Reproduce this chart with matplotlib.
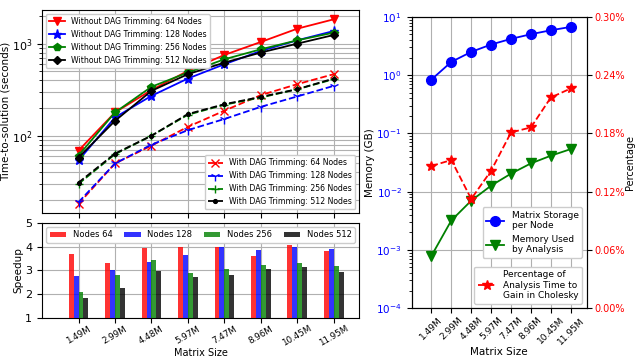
import matplotlib
matplotlib.use("Agg")
import matplotlib.pyplot as plt
import numpy as np
from matplotlib.ticker import PercentFormatter

sizes = ["1.49M", "2.99M", "4.48M", "5.97M", "7.47M", "8.96M", "10.45M", "11.95M"]

# Time-to-solution (seconds)
no_trim_64 = [69, 179, 313, 506, 754, 1042, 1453, 1837]
no_trim_128 = [54, 158, 271, 418, 597, 833, 1087, 1371]
no_trim_256 = [61, 179, 340, 486, 676, 868, 1087, 1316]
no_trim_512 = [58, 145, 307, 466, 622, 800, 1000, 1241]
trim_64 = [18.2, 50, 78, 125, 187, 276, 363, 466]
trim_128 = [19, 50, 80, 115, 152, 206, 267, 348]
trim_256 = [30, 63, 100, 169, 217, 260, 320, 411]
trim_512 = [31, 64, 100, 172, 220, 264, 320, 418]

# Speedup
speed_64 = [3.68, 3.30, 3.93, 3.98, 3.98, 3.59, 4.05, 3.80]
speed_128 = [2.77, 3.01, 3.34, 3.63, 3.98, 3.84, 3.98, 3.88]
speed_256 = [2.10, 2.80, 3.43, 2.88, 3.05, 3.22, 3.30, 3.17]
speed_512 = [1.85, 2.27, 2.98, 2.71, 2.80, 3.05, 3.13, 2.92]

# Memory (GB) and percentage
mem_storage = [0.84, 1.69, 2.51, 3.36, 4.2, 5.05, 5.9, 6.74]
mem_analysis = [7.9e-4, 3.2e-3, 7.0e-3, 0.0127, 0.0204, 0.0306, 0.0414, 0.0538]
pct_analysis = [0.1464, 0.1526, 0.1125, 0.1416, 0.181, 0.1862, 0.217, 0.2263]

x = np.arange(1, len(sizes) + 1)

fig = plt.figure(figsize=(6.37, 3.6), dpi=100)
ax1 = fig.add_axes([0.066, 0.408, 0.498, 0.564])
ax2 = fig.add_axes([0.066, 0.117, 0.498, 0.264])
ax3 = fig.add_axes([0.646, 0.144, 0.275, 0.809])

lw = 1.3
ms = 5.5
h1 = []
h1 += ax1.plot(x, no_trim_64, 'r-', marker='v', ms=ms, lw=lw, label="Without DAG Trimming: 64 Nodes")
h1 += ax1.plot(x, no_trim_128, 'b-', marker='*', ms=ms+1, lw=lw, label="Without DAG Trimming: 128 Nodes")
h1 += ax1.plot(x, no_trim_256, 'g-', marker='p', ms=ms, lw=lw, label="Without DAG Trimming: 256 Nodes")
h1 += ax1.plot(x, no_trim_512, 'k-', marker='D', ms=ms-1, lw=lw, label="Without DAG Trimming: 512 Nodes")
h2 = []
h2 += ax1.plot(x, trim_64, 'r--', marker='x', ms=ms, lw=lw, label="With DAG Trimming: 64 Nodes")
h2 += ax1.plot(x, trim_128, 'b--', marker='1', ms=ms+1, lw=lw, label="With DAG Trimming: 128 Nodes")
h2 += ax1.plot(x, trim_256, 'g--', marker='+', ms=ms, lw=lw, label="With DAG Trimming: 256 Nodes")
h2 += ax1.plot(x, trim_512, 'k--', marker='.', ms=ms, lw=lw, label="With DAG Trimming: 512 Nodes")
ax1.set_yscale('log')
ax1.set_xlim(0, 8.7)
ax1.set_xticks(x)
ax1.set_xticklabels([])
ax1.grid(True, which='major', color='#b0b0b0', lw=0.8)
ax1.grid(True, which='minor', axis='y', color='#b0b0b0', lw=0.8)
ax1.set_ylabel("Time-to-solution (seconds)", fontsize=7.5, labelpad=1)
ax1.tick_params(labelsize=8)
leg1 = ax1.legend(handles=h1, loc='upper left', fontsize=5.6, framealpha=1)
ax1.add_artist(leg1)
ax1.legend(handles=h2, loc='lower right', fontsize=5.6, framealpha=1)

w = 0.135
colors = ['r', 'b', 'g', 'k']
labels = ["Nodes 64", "Nodes 128", "Nodes 256", "Nodes 512"]
for i, (vals, c, lab) in enumerate(zip([speed_64, speed_128, speed_256, speed_512], colors, labels)):
    ax2.bar(x + (i - 1.5) * w, vals, width=w, color=c, alpha=0.8, label=lab, zorder=3)
ax2.set_ylim(1, 5)
ax2.set_xlim(0, 8.7)
ax2.set_xticks(x)
ax2.set_xticklabels(sizes, rotation=30, ha='center', fontsize=6.3)
ax2.set_yticks([1, 2, 3, 4, 5])
ax2.tick_params(axis='y', labelsize=8)
ax2.tick_params(axis='x', pad=1)
ax2.grid(True, color='#b0b0b0', lw=0.8)
ax2.set_ylabel("Speedup", fontsize=7.5, labelpad=1)
ax2.set_xlabel("Matrix Size", fontsize=7, labelpad=0)
ax2.legend(loc='upper center', ncol=4, fontsize=6, framealpha=1, mode='expand', borderaxespad=0.5)

ha1 = ax3.plot(x, mem_storage, 'b-', marker='o', ms=7, lw=lw, label="Matrix Storage\nper Node")
ha2 = ax3.plot(x, mem_analysis, 'g-', marker='v', ms=7, lw=lw, label="Memory Used\nby Analysis")
ax3.set_yscale('log')
ax3.set_ylim(1e-4, 1e1)
ax3.set_xlim(0, 8.8)
ax3.set_xticks(x)
ax3.set_xticklabels(sizes, rotation=45, ha='center', fontsize=6.5)
ax3.tick_params(axis='y', labelsize=7.5, labelcolor='b')
ax3.tick_params(axis='x', pad=2)
ax3.grid(True, color='#b0b0b0', lw=0.8)
ax3.set_ylabel("Memory (GB)", fontsize=7.5, labelpad=1)
ax3.set_xlabel("Matrix Size", fontsize=7.5, labelpad=1)
ax4 = ax3.twinx()
hp = ax4.plot(x, pct_analysis, 'r--', marker='*', ms=7, lw=lw,
              label="Percentage of\nAnalysis Time to\nGain in Cholesky")
ax4.set_ylim(0, 0.30)
ax4.set_yticks([0, 0.06, 0.12, 0.18, 0.24, 0.30])
ax4.yaxis.set_major_formatter(PercentFormatter(xmax=100, decimals=2))
ax4.tick_params(axis='y', labelsize=7, labelcolor='r', pad=2)
ax4.set_ylabel("Percentage", fontsize=7, labelpad=0)
leg_a = ax4.legend(handles=ha1 + ha2, loc='center right', bbox_to_anchor=(1.0, 0.26),
                   fontsize=6.5, framealpha=1)
ax4.add_artist(leg_a)
ax4.legend(handles=hp, loc='lower right', fontsize=6.5, framealpha=1)

fig.savefig("out.png", dpi=100)
